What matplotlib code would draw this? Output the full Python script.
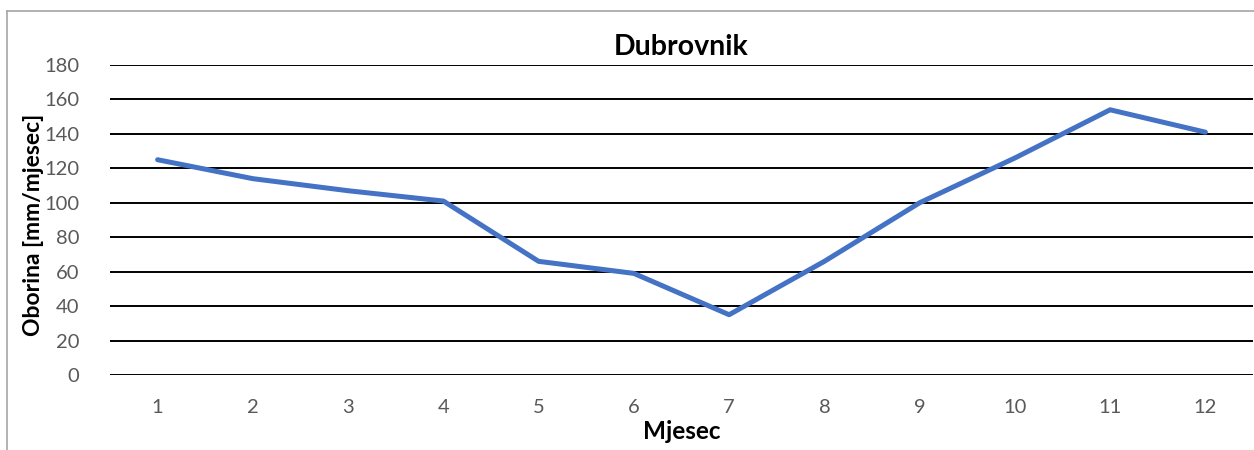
import matplotlib
matplotlib.use("Agg")
import matplotlib.pyplot as plt
from matplotlib.lines import Line2D

# monthly precipitation, Dubrovnik
months = ["1", "2", "3", "4", "5", "6", "7", "8", "9", "10", "11", "12"]
precip = [125, 114, 107, 101, 66, 59, 35, 66, 100, 126, 154, 141]
yticks = [0, 20, 40, 60, 80, 100, 120, 140, 160, 180]

plt.rcParams['font.family'] = ['Lato', 'DejaVu Sans']

W, H = 1254, 450
fig = plt.figure(figsize=(W / 100, H / 100), dpi=100)
ax = fig.add_axes([110 / W, 1 - 375 / H, (1253 - 110) / W, (375 - 65) / H])

x = list(range(len(months)))
ax.plot(x, precip, color="#4472C4", lw=3.6, solid_joinstyle="round", solid_capstyle="round", zorder=3)

ax.set_xlim(-0.5, len(months) - 0.5)
ax.set_ylim(0, 180)
ax.set_yticks(yticks)
ax.set_xticks(x)
ax.set_xticklabels(months)
for s in ax.spines.values():
    s.set_visible(False)
ax.yaxis.grid(True, color="black", lw=1.4)
ax.set_axisbelow(True)
ax.tick_params(axis="both", length=0, labelsize=14.5, labelcolor="#595959")
ax.tick_params(axis="y", pad=22)
ax.tick_params(axis="x", pad=17)

ax.set_title("Dubrovnik", fontsize=20.5, fontweight="bold", pad=7)
ax.set_xlabel("Mjesec", fontsize=17.5, fontweight="bold", labelpad=3)
ax.set_ylabel("Oborina [mm/mjesec]", fontsize=16.5, fontweight="bold")
ax.yaxis.set_label_coords(-0.058, 0.484)

# chart frame (left and top edges visible)
fig.add_artist(Line2D([7 / W, 7 / W], [0, 1 - 11 / H], color="#A6A6A6", lw=1.2))
fig.add_artist(Line2D([7 / W, 1], [1 - 11 / H, 1 - 11 / H], color="#A6A6A6", lw=1.2))

fig.savefig("out.png", dpi=100)
